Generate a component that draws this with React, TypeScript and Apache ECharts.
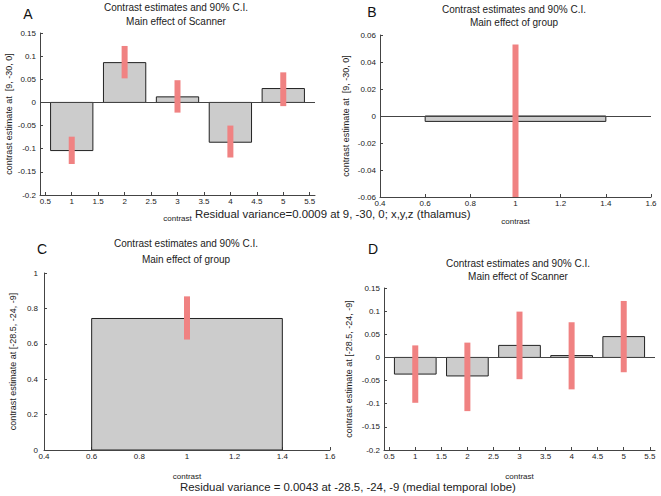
import React, { useEffect, useRef } from "react";
import * as echarts from "echarts";

// Panel A: thalamus, main effect of Scanner
const scannerContrasts = [1, 2, 3, 4, 5];
const thalScannerEst = [-0.104, 0.086, 0.012, -0.086, 0.03];
const thalScannerLo = [-0.133, 0.052, -0.022, -0.119, -0.008];
const thalScannerHi = [-0.074, 0.122, 0.048, -0.05, 0.065];
// Panel B: thalamus, main effect of group
const groupContrasts = [1];
const thalGroupEst = [-0.004];
const thalGroupLo = [-0.06];
const thalGroupHi = [0.053];
// Panel C: medial temporal lobe, main effect of group
const mtlGroupEst = [0.743];
const mtlGroupLo = [0.624];
const mtlGroupHi = [0.868];
// Panel D: medial temporal lobe, main effect of Scanner
const mtlScannerEst = [-0.036, -0.04, 0.026, 0.004, 0.045];
const mtlScannerLo = [-0.098, -0.116, -0.047, -0.069, -0.032];
const mtlScannerHi = [0.026, 0.032, 0.099, 0.076, 0.122];

const scannerTicks = [0.5, 1, 1.5, 2, 2.5, 3, 3.5, 4, 4.5, 5, 5.5];
const groupTicks = [0.4, 0.6, 0.8, 1, 1.2, 1.4, 1.6];

const titleLine1 = "Contrast estimates and 90% C.I.";
const titleScanner = "Main effect of Scanner";
const titleGroup = "Main effect of group";
const yNameThal = "contrast estimate at  [9, -30, 0]";
const yNameMtl = "contrast estimate at [-28.5, -24, -9]";
const residThal = "Residual variance=0.0009 at 9, -30, 0; x,y,z (thalamus)";
const residMtl = "Residual variance = 0.0043 at -28.5, -24, -9 (medial temporal lobe)";

const FONT = "Liberation Sans, Arial, sans-serif";
const AXIS_COLOR = "#444";
const BAR_FILL = "#cccccc";
const ERR_COLOR = "#f08282";

function App() {
  const ref = useRef<HTMLDivElement>(null);
  useEffect(() => {
    document.body.style.margin = "0";
    const chart = echarts.init(ref.current!, null, { renderer: "svg" });

    const grids = [
      { left: 40, top: 33, width: 275, height: 162 },
      { left: 380, top: 35, width: 271, height: 162 },
      { left: 44, top: 273, width: 286, height: 177 },
      { left: 384, top: 288, width: 271, height: 162 },
    ];

    const xAxisBase = (gi: number, min: number, max: number, ticks: number[], gap: number) => ({
      type: "value",
      gridIndex: gi,
      min,
      max,
      name: "contrast",
      nameLocation: "middle",
      nameGap: gap,
      nameTextStyle: { fontFamily: FONT, fontSize: 8, color: "#222" },
      splitLine: { show: false },
      axisLine: { show: true, onZero: false, lineStyle: { color: AXIS_COLOR, width: 1 } },
      axisTick: { show: true, inside: true, length: 3, customValues: ticks, lineStyle: { color: AXIS_COLOR } },
      axisLabel: {
        customValues: ticks,
        fontFamily: FONT,
        fontSize: 8,
        color: "#222",
        margin: 2,
        formatter: (v: number) => String(+v.toFixed(2)),
      },
    });

    const yAxisBase = (
      gi: number,
      min: number,
      max: number,
      interval: number,
      name: string,
      gap: number,
      labelMargin: number
    ) => ({
      type: "value",
      gridIndex: gi,
      min,
      max,
      interval,
      name,
      nameLocation: "middle",
      nameGap: gap,
      nameTextStyle: { fontFamily: FONT, fontSize: 9, color: "#222" },
      splitLine: { show: false },
      axisLine: { show: true, onZero: false, lineStyle: { color: AXIS_COLOR, width: 1 } },
      axisTick: { show: true, inside: true, length: 3, lineStyle: { color: AXIS_COLOR } },
      axisLabel: {
        fontFamily: FONT,
        fontSize: 8,
        color: "#222",
        margin: labelMargin,
        formatter: (v: number) => String(+v.toFixed(3)),
      },
    });

    const barSeries = (gi: number, xs: number[], vals: number[]) => ({
      type: "custom",
      xAxisIndex: gi,
      yAxisIndex: gi,
      clip: true,
      z: 2,
      data: xs.map((x, i) => [x, vals[i]]),
      renderItem: (_p: any, api: any) => {
        const x = api.value(0);
        const v = api.value(1);
        const a = api.coord([x - 0.4, Math.max(v, 0)]);
        const b = api.coord([x + 0.4, Math.min(v, 0)]);
        return {
          type: "rect",
          shape: { x: a[0], y: a[1], width: b[0] - a[0], height: b[1] - a[1] },
          style: { fill: BAR_FILL, stroke: "#222", lineWidth: 1 },
        };
      },
      markLine: {
        silent: true,
        symbol: "none",
        label: { show: false },
        lineStyle: { color: "#444", width: 1, type: "solid" },
        data: [{ yAxis: 0 }],
        z: 3,
      },
    });

    const errSeries = (gi: number, xs: number[], lo: number[], hi: number[]) => ({
      type: "custom",
      xAxisIndex: gi,
      yAxisIndex: gi,
      clip: true,
      z: 4,
      data: xs.map((x, i) => [x, lo[i], hi[i]]),
      renderItem: (_p: any, api: any) => {
        const x = api.value(0);
        const top = api.coord([x, api.value(2)]);
        const bot = api.coord([x, api.value(1)]);
        return {
          type: "rect",
          shape: { x: top[0] - 3, y: top[1], width: 6, height: bot[1] - top[1] },
          style: { fill: ERR_COLOR },
        };
      },
    });

    const titles = [
      { x: 176, y1: 7, y2: 21, sub: titleScanner },
      { x: 514, y1: 9, y2: 22, sub: titleGroup },
      { x: 186, y1: 243, y2: 259, sub: titleGroup },
      { x: 518, y1: 263, y2: 276, sub: titleScanner },
    ];

    const graphic: any[] = [];
    titles.forEach((t) => {
      graphic.push({
        type: "text",
        x: t.x,
        y: t.y1,
        style: { text: titleLine1, font: `10px ${FONT}`, fill: "#222", textAlign: "center", textVerticalAlign: "middle" },
      });
      graphic.push({
        type: "text",
        x: t.x,
        y: t.y2,
        style: { text: t.sub, font: `10px ${FONT}`, fill: "#222", textAlign: "center", textVerticalAlign: "middle" },
      });
    });
    const letters = [
      ["A", 28, 14],
      ["B", 372, 12],
      ["C", 42, 249],
      ["D", 373, 249],
    ];
    letters.forEach(([s, x, y]) => {
      graphic.push({
        type: "text",
        x,
        y,
        style: { text: s, font: `14px ${FONT}`, fill: "#111", textAlign: "center", textVerticalAlign: "middle" },
      });
    });
    graphic.push({
      type: "text",
      x: 195,
      y: 214,
      style: { text: residThal, font: `11.4px ${FONT}`, fill: "#222", textAlign: "left", textVerticalAlign: "middle" },
    });
    graphic.push({
      type: "text",
      x: 180,
      y: 487,
      style: { text: residMtl, font: `11.4px ${FONT}`, fill: "#222", textAlign: "left", textVerticalAlign: "middle" },
    });

    chart.setOption({
      animation: false,
      backgroundColor: "#ffffff",
      grid: grids,
      xAxis: [
        xAxisBase(0, 0.4, 5.6, scannerTicks, 19),
        xAxisBase(1, 0.4, 1.6, groupTicks, 20),
        xAxisBase(2, 0.4, 1.6, groupTicks, 22),
        xAxisBase(3, 0.4, 5.6, scannerTicks, 22),
      ],
      yAxis: [
        yAxisBase(0, -0.2, 0.15, 0.05, yNameThal, 27, 4),
        yAxisBase(1, -0.06, 0.06, 0.02, yNameThal, 30, 4),
        yAxisBase(2, 0, 1, 0.2, yNameMtl, 27, 6),
        yAxisBase(3, -0.2, 0.15, 0.05, yNameMtl, 31, 4),
      ],
      series: [
        barSeries(0, scannerContrasts, thalScannerEst),
        errSeries(0, scannerContrasts, thalScannerLo, thalScannerHi),
        barSeries(1, groupContrasts, thalGroupEst),
        errSeries(1, groupContrasts, thalGroupLo, thalGroupHi),
        barSeries(2, groupContrasts, mtlGroupEst),
        errSeries(2, groupContrasts, mtlGroupLo, mtlGroupHi),
        barSeries(3, scannerContrasts, mtlScannerEst),
        errSeries(3, scannerContrasts, mtlScannerLo, mtlScannerHi),
      ],
      graphic,
    });
    return () => chart.dispose();
  }, []);
  return <div ref={ref} style={{ width: 661, height: 496 }} />;
}

export default App;
